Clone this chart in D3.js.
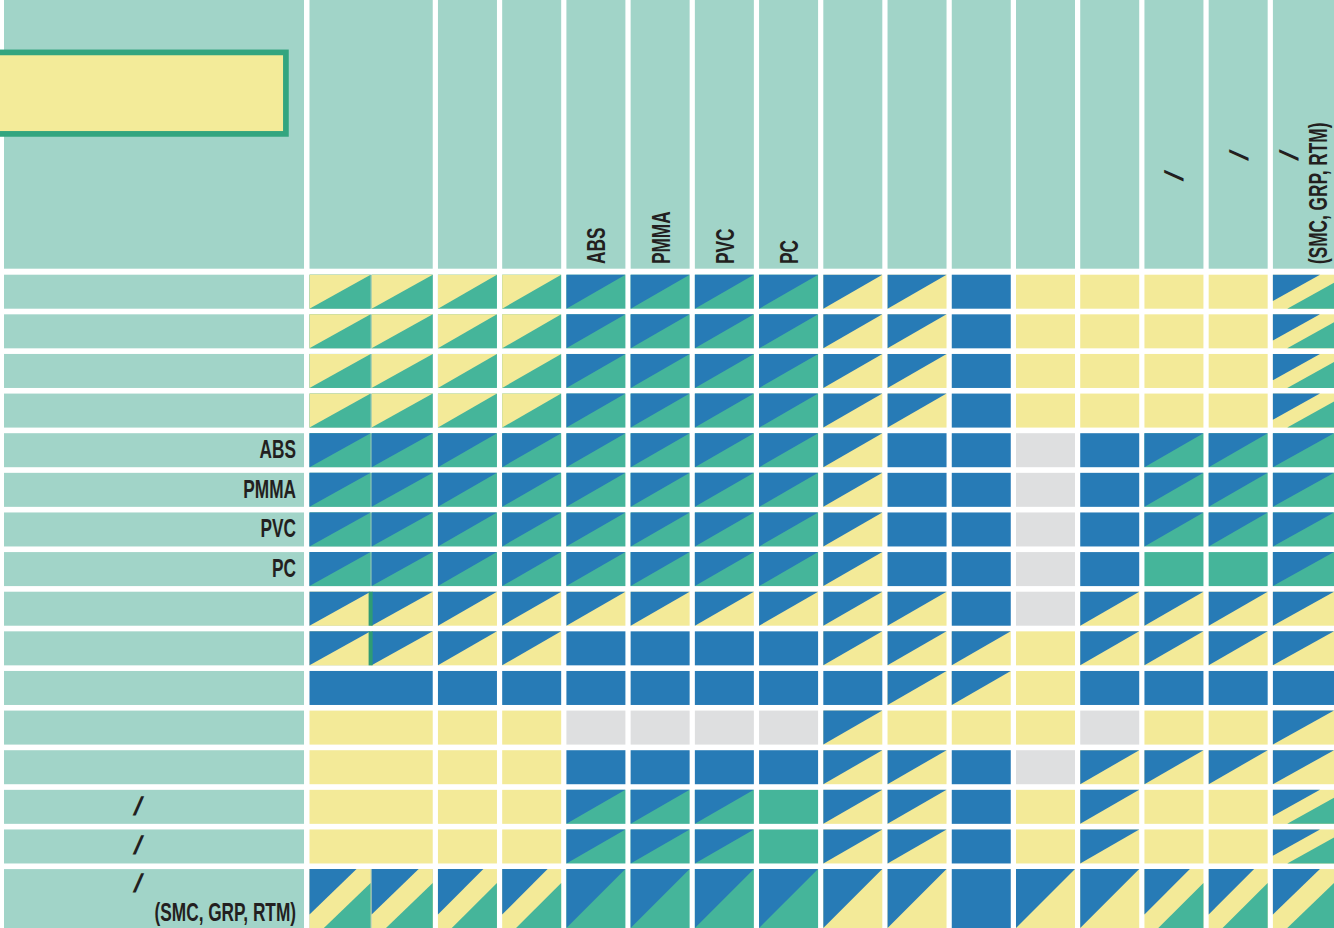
<!DOCTYPE html>
<html>
<head>
<meta charset="utf-8">
<script src="https://cdn.jsdelivr.net/npm/d3@7"></script>
<style>
  html, body { margin: 0; padding: 0; background: #ffffff; }
  svg { display: block; }
</style>
</head>
<body>
<svg id="chart" width="1334" height="928"></svg>
<script>
// ---------------- data ----------------
// Row labels (only the Latin parts are legible in the reference)
const rowLabels = ["", "", "", "", "ABS", "PMMA", "PVC", "PC", "", "", "", "", "", "/", "/", "/\n(SMC, GRP, RTM)"];
// Column headers (the first header spans two columns)
const colHeaders = ["", "", "", "ABS", "PMMA", "PVC", "PC", "", "", "", "", "", "/", "/", "/\n(SMC, GRP, RTM)"];
const colHeaderSpans = [2, 1, 1, 1, 1, 1, 1, 1, 1, 1, 1, 1, 1, 1, 1];

// Cell codes: Y yellow, B blue, G green, X grey,
// two letters = upper-left / lower-right split, BYG = three bands, "<" = merged with left cell
const row01 = "YG YG YG YG BG BG BG BG BY BY B Y Y Y Y BYG";
const row02 = "YG YG YG YG BG BG BG BG BY BY B Y Y Y Y BYG";
const row03 = "YG YG YG YG BG BG BG BG BY BY B Y Y Y Y BYG";
const row04 = "YG YG YG YG BG BG BG BG BY BY B Y Y Y Y BYG";
const row05 = "BG BG BG BG BG BG BG BG BY B B X B BG BG BG";
const row06 = "BG BG BG BG BG BG BG BG BY B B X B BG BG BG";
const row07 = "BG BG BG BG BG BG BG BG BY B B X B BG BG BG";
const row08 = "BG BG BG BG BG BG BG BG BY B B X B G G BG";
const row09 = "BY BY BY BY BY BY BY BY BY BY B X BY BY BY BY";
const row10 = "BY BY BY BY B B B B BY BY BY Y BY BY BY BY";
const row11 = "B < B B B B B B B BY BY Y B B B B";
const row12 = "Y < Y Y X X X X BY Y Y Y X Y Y BY";
const row13 = "Y < Y Y B B B B BY BY B X BY BY BY BY";
const row14 = "Y < Y Y BG BG BG G BY BY B Y BY Y Y BYG";
const row15 = "Y < Y Y BG BG BG G BY BY B Y BY Y Y BYG";
const row16 = "BYG BYG BYG BYG BG BG BG BG BY BY B BY BY BYG BYG BYG";
const cellRows = [row01, row02, row03, row04, row05, row06, row07, row08,
                  row09, row10, row11, row12, row13, row14, row15, row16];

// ---------------- styling / layout ----------------
const W = 1334, H = 928;
const palette = { Y: "#f3ea98", B: "#277bb6", G: "#45b59a", X: "#dedfe0" };
const teal = "#a1d4c8";
const seamColor = "#b3ccc6";
const seamAccentRows = [8, 9];
const textColor = "#231f20";
const fontFamily = '"Liberation Sans Narrow","Arial Narrow","Liberation Sans",Arial,sans-serif';
const fontSize = 26;
const capH = 0.729 * fontSize;
const lineGap = 29;

const svg = d3.select("#chart");
svg.append("rect").attr("width", W).attr("height", H).attr("fill", "#ffffff");

const nCols = cellRows[0].split(" ").length;
const nRows = cellRows.length;

const x = d3.scaleBand().domain(d3.range(nCols)).range([309.5, 1331.9]).paddingInner(0.0814).paddingOuter(0);
const y = d3.scaleBand().domain(d3.range(nRows)).range([274.7, 903.1]).paddingInner(0.1418).paddingOuter(0);
const cellW = c => (c === nCols - 1 ? W - x(c) : x.bandwidth());
const cellH = r => (r === nRows - 1 ? H - y(r) : y.bandwidth());
const headerBottom = y(0) - 6;

// ---------------- header band ----------------
const labelX0 = 4, labelX1 = 304;
svg.append("rect").attr("x", labelX0).attr("y", 0).attr("width", labelX1 - labelX0).attr("height", headerBottom).attr("fill", teal);

let startCol = 0;
const headerCells = colHeaders.map((h, i) => {
  const s = startCol, span = colHeaderSpans[i];
  startCol += span;
  const x0 = x(s);
  const x1 = x(s + span - 1) + cellW(s + span - 1);
  return { label: h, x0, x1, idx: i };
});
svg.append("g").selectAll("rect").data(headerCells).join("rect")
  .attr("x", d => d.x0).attr("y", 0)
  .attr("width", d => d.x1 - d.x0).attr("height", headerBottom)
  .attr("fill", teal);

// title box (left part runs off the page)
svg.append("rect").attr("x", -10).attr("y", 52.4).attr("width", 295.9).attr("height", 81.5)
  .attr("fill", "#f3eb99").attr("stroke", "#33a57f").attr("stroke-width", 5.7);

// ---------------- row label cells ----------------
svg.append("g").selectAll("rect").data(d3.range(nRows)).join("rect")
  .attr("x", labelX0).attr("y", r => y(r))
  .attr("width", labelX1 - labelX0).attr("height", r => cellH(r))
  .attr("fill", teal);

// ---------------- matrix cells ----------------
const cells = [];
cellRows.forEach((rowStr, r) => {
  const codes = rowStr.split(" ");
  const merged01 = codes[1] === "<";
  const y0 = y(r), h = cellH(r);
  const pairX0 = x(0), pairX1 = x(1) + cellW(1), mid = (pairX0 + pairX1) / 2;
  if (!merged01) {
    cells.push({ seam: true, x0: pairX0, y0, w: pairX1 - pairX0, h, r });
  }
  codes.forEach((code, c) => {
    if (code === "<") return;
    let x0 = x(c), w = cellW(c);
    if (c === 0) {
      if (merged01) { w = pairX1 - pairX0; }
      else { w = mid - 0.5 - pairX0; }
    } else if (c === 1) {
      x0 = mid + 0.5; w = pairX1 - x0;
    }
    cells.push({ code, x0, y0, w, h, r, c });
  });
});

const gCells = svg.append("g");
const pt = (d, u, v) => [d.x0 + u * d.w, d.y0 + v * d.h];
const poly = pts => pts.map(p => p.join(",")).join(" ");

cells.forEach(d => {
  if (d.seam) {
    gCells.append("rect").attr("x", d.x0).attr("y", d.y0).attr("width", d.w).attr("height", d.h).attr("fill", seamColor);
    return;
  }
  const code = d.code;
  const g = gCells.append("g");
  if (code.length === 1) {
    g.append("rect").attr("x", d.x0).attr("y", d.y0).attr("width", d.w).attr("height", d.h).attr("fill", palette[code]);
  } else if (code.length === 2) {
    g.append("rect").attr("x", d.x0).attr("y", d.y0).attr("width", d.w).attr("height", d.h).attr("fill", palette[code[1]]);
    g.append("polygon").attr("points", poly([pt(d, 0, 0), pt(d, 1, 0), pt(d, 0, 1)])).attr("fill", palette[code[0]]);
  } else {
    const a = 0.77, b = 0.235;
    g.append("rect").attr("x", d.x0).attr("y", d.y0).attr("width", d.w).attr("height", d.h).attr("fill", palette[code[1]]);
    g.append("polygon").attr("points", poly([pt(d, 0, 0), pt(d, a, 0), pt(d, 0, a)])).attr("fill", palette[code[0]]);
    g.append("polygon").attr("points", poly([pt(d, b, 1), pt(d, 1, 1), pt(d, 1, b)])).attr("fill", palette[code[2]]);
  }
});

// accent seam strips between the first two columns
seamAccentRows.forEach(r => {
  const mid = (x(0) + x(1) + cellW(1)) / 2;
  svg.append("rect").attr("x", mid - 2.5).attr("y", y(r)).attr("width", 4).attr("height", cellH(r)).attr("fill", "#2e9c74");
});

// ---------------- text ----------------
const probe = svg.append("text").attr("font-family", fontFamily).attr("font-weight", "bold")
  .attr("font-size", fontSize).text("PMMA");
let k = 52.7 / probe.node().getComputedTextLength();
if (!isFinite(k) || k <= 0) k = 0.8;
probe.remove();

const gText = svg.append("g").attr("font-family", fontFamily).attr("font-weight", "bold")
  .attr("font-size", fontSize).attr("fill", textColor);

// row labels
rowLabels.forEach((lab, r) => {
  if (!lab) return;
  const lines = lab.split("\n");
  const cy = y(r) + cellH(r) / 2 - 1.5;
  lines.forEach((line, i) => {
    const c = cy + (i - (lines.length - 1) / 2) * lineGap;
    const base = c + capH / 2;
    if (line === "/") {
      gText.append("text").attr("text-anchor", "middle")
        .attr("transform", `translate(136,${base}) skewX(-14)`).text(line);
    } else {
      gText.append("text").attr("text-anchor", "end")
        .attr("transform", `translate(296,${base}) scale(${k},1)`).text(line);
    }
  });
});

// column headers (rotated)
const headerSlashY = { 12: 178, 13: 157.5, 14: 157.5 };
headerCells.forEach(hc => {
  if (!hc.label) return;
  const lines = hc.label.split("\n");
  const cx = (hc.x0 + hc.x1) / 2;
  lines.forEach((line, i) => {
    const c = cx + (i - (lines.length - 1) / 2) * lineGap;
    const base = c + capH / 2;
    if (line === "/") {
      gText.append("text").attr("text-anchor", "middle")
        .attr("transform", `translate(${base},${headerSlashY[hc.idx] || 160}) rotate(-90) skewX(-14)`).text(line);
    } else {
      gText.append("text").attr("text-anchor", "start")
        .attr("transform", `translate(${base},264) rotate(-90) scale(${k},1)`).text(line);
    }
  });
});
</script>
</body>
</html>
